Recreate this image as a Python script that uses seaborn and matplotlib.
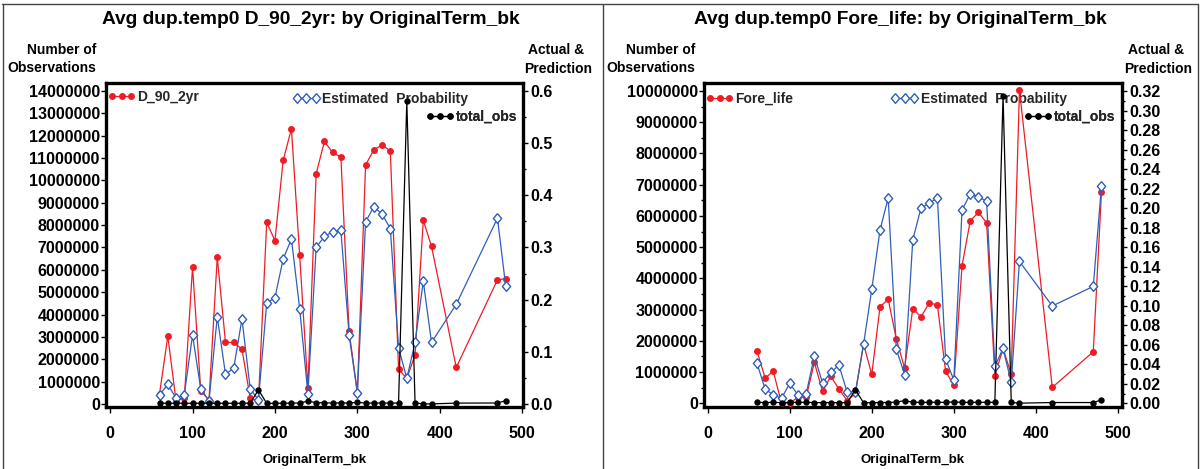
import matplotlib
matplotlib.use("Agg")
import matplotlib.pyplot as plt
import seaborn as sns
from matplotlib.lines import Line2D
from matplotlib.ticker import MultipleLocator, FuncFormatter

# ---------------- data ----------------
term_left = [60, 70, 80, 90, 100, 110, 120, 130, 140, 150, 160, 170, 180, 190, 200,
             210, 220, 230, 240, 250, 260, 270, 280, 290, 300, 310, 320, 330, 340,
             350, 360, 370, 380, 390, 420, 470, 480]
d90_actual = [0.020, 0.130, 0.006, 0.011, 0.262, 0.025, 0.008, 0.281, 0.118, 0.118,
              0.105, 0.011, 0.006, 0.348, 0.313, 0.467, 0.527, 0.285, 0.031, 0.441,
              0.503, 0.482, 0.473, 0.139, 0.022, 0.458, 0.487, 0.496, 0.485, 0.067,
              0.049, 0.094, 0.352, 0.302, 0.070, 0.238, 0.240]
d90_est = [0.017, 0.038, 0.011, 0.018, 0.132, 0.029, 0.006, 0.167, 0.057, 0.069,
           0.163, 0.029, 0.008, 0.193, 0.204, 0.278, 0.316, 0.183, 0.019, 0.300,
           0.321, 0.330, 0.333, 0.132, 0.022, 0.349, 0.378, 0.364, 0.336, 0.108,
           0.049, 0.118, 0.235, 0.118, 0.191, 0.356, 0.226]
d90_obs = [45000, 30000, 40000, 35000, 30000, 40000, 35000, 30000, 35000, 30000,
           35000, 40000, 630000, 30000, 30000, 35000, 40000, 45000, 130000, 60000,
           50000, 45000, 50000, 45000, 70000, 45000, 40000, 45000, 40000, 45000,
           13550000, 50000, 5000, 5000, 40000, 45000, 150000]

term_right = [60, 70, 80, 90, 100, 110, 120, 130, 140, 150, 160, 170, 180, 190, 200,
              210, 220, 230, 240, 250, 260, 270, 280, 290, 300, 310, 320, 330, 340,
              350, 360, 370, 380, 420, 470, 480]
fore_actual = [0.0538, 0.0259, 0.0327, 0.0000, 0.0003, 0.0061, 0.0061, 0.0419, 0.0123,
               0.0276, 0.0146, 0.0027, 0.0102, 0.0606, 0.0296, 0.0987, 0.1066, 0.0657,
               0.0361, 0.0970, 0.0885, 0.1028, 0.1008, 0.0327, 0.0187, 0.1406, 0.1869,
               0.1957, 0.1849, 0.0283, 0.0562, 0.0296, 0.3210, 0.0163, 0.0528, 0.2169]
fore_est = [0.0412, 0.0146, 0.0085, 0.0051, 0.0204, 0.0085, 0.0095, 0.0483, 0.0208,
            0.0317, 0.0391, 0.0112, 0.0112, 0.0606, 0.1168, 0.1774, 0.2104, 0.0555,
            0.0293, 0.1675, 0.2002, 0.2049, 0.2107, 0.0453, 0.0238, 0.1978, 0.2145,
            0.2114, 0.2070, 0.0378, 0.0562, 0.0214, 0.1454, 0.0997, 0.1198, 0.2230]
fore_obs = [30000, 25000, 30000, 20000, 30000, 35000, 30000, 25000, 20000, 25000,
            20000, 25000, 430000, 20000, 20000, 25000, 25000, 40000, 85000, 35000,
            30000, 30000, 35000, 30000, 45000, 30000, 30000, 35000, 30000, 30000,
            9850000, 30000, 5000, 25000, 25000, 110000]

x_ticks = [0, 100, 200, 300, 400, 500]

# ---------------- style ----------------
sns.set_theme(style="ticks")
plt.rcParams["font.family"] = ["Liberation Sans", "DejaVu Sans"]
plt.rcParams["font.weight"] = "bold"

RED = "#ee1c25"
BLUE = "#2f5fb8"
BLACK = "#000000"
DIAMOND = [(0, 1), (0.85, 0), (0, -1), (-0.85, 0), (0, 1)]

W, H = 1201, 469
fig = plt.figure(figsize=(W / 100, H / 100), dpi=100)
fig.patch.set_facecolor("white")

RED_KW = dict(color=RED, marker="o", markersize=5, markeredgewidth=0, linewidth=0.9)
BLUE_KW = dict(color=BLUE, marker=DIAMOND, markersize=7, markerfacecolor="white",
               markeredgecolor=BLUE, markeredgewidth=1.0, linewidth=0.9)
BLACK_KW = dict(color=BLACK, marker="o", markersize=4.6, markeredgewidth=0, linewidth=0.9)


def px_axes(l, t, r, b):
    return fig.add_axes([l / W, 1 - b / H, (r - l) / W, (b - t) / H])


def panel(rect, xs, actual, est, obs, name, title, xlim, ylim_p, ylim_c,
          p_major, p_minor, p_fmt, c_major, c_minor, title_x, lbl_x, leg_anchor):
    ax = px_axes(*rect)
    ax2 = ax.twinx()
    # probability axis on the right, counts on the left
    ax.yaxis.set_ticks_position("right")
    ax.yaxis.set_label_position("right")
    ax2.yaxis.set_ticks_position("left")
    ax2.yaxis.set_label_position("left")

    sns.lineplot(x=xs, y=actual, ax=ax, estimator=None, sort=False, zorder=3, **RED_KW)
    sns.lineplot(x=xs, y=est, ax=ax, estimator=None, sort=False, zorder=3, **BLUE_KW)
    sns.lineplot(x=xs, y=obs, ax=ax2, estimator=None, sort=False, **BLACK_KW)

    ax.set_xlim(*xlim)
    ax.set_ylim(*ylim_p)
    ax2.set_ylim(*ylim_c)
    ax.set_xticks(x_ticks)
    ax.yaxis.set_major_locator(MultipleLocator(p_major))
    ax.yaxis.set_minor_locator(MultipleLocator(p_minor))
    ax.yaxis.set_major_formatter(FuncFormatter(lambda v, p: p_fmt.format(abs(v) if abs(v) < 1e-9 else v)))
    ax2.yaxis.set_major_locator(MultipleLocator(c_major))
    if c_minor:
        ax2.yaxis.set_minor_locator(MultipleLocator(c_minor))
    ax2.yaxis.set_major_formatter(FuncFormatter(lambda v, p: f"{int(round(v))}"))

    for a in (ax, ax2):
        a.set_xlabel("")
        a.set_ylabel("")
        a.grid(False)
    for s in ax.spines.values():
        s.set_visible(True)
        s.set_linewidth(2.4)
        s.set_color("black")
    for s in ax2.spines.values():
        s.set_visible(False)

    ax.tick_params(axis="x", which="major", direction="out", length=4, width=1,
                   pad=10, labelsize=11.5, colors="black")
    ax.tick_params(axis="y", which="major", direction="out", length=3.5, width=1,
                   pad=2, labelsize=11.5, colors="black")
    ax.tick_params(axis="y", which="minor", direction="out", length=2.5, width=1,
                   colors="black")
    ax2.tick_params(axis="y", which="major", direction="out", length=3.5, width=1,
                    pad=1, labelsize=11.5, colors="black")
    ax2.tick_params(axis="y", which="minor", direction="out", length=2.5, width=1,
                    colors="black")
    for lab in ax.get_xticklabels() + ax.get_yticklabels() + ax2.get_yticklabels():
        lab.set_fontweight("bold")

    ax.set_xlabel("OriginalTerm_bk", fontsize=9.5, fontweight="bold", labelpad=9,
                  color="black")

    # legends (drawn under the data lines)
    specs = [
        (Line2D([], [], **RED_KW), name, leg_anchor[0]),
        (Line2D([], [], **BLUE_KW), "Estimated  Probability", leg_anchor[1]),
        (Line2D([], [], **BLACK_KW), "total_obs", leg_anchor[2]),
    ]
    for h, lbl, anc in specs:
        leg = ax.legend(handles=[h], labels=[lbl], loc="center left",
                        bbox_to_anchor=anc, frameon=False, numpoints=3,
                        handlelength=2.0, handletextpad=0.15, borderpad=0,
                        borderaxespad=0,
                        prop={"size": 10, "weight": "bold",
                              "family": ["Liberation Sans", "DejaVu Sans"]})
        leg.set_zorder(1)
        ax.add_artist(leg)

    fig.text(title_x / W, 1 - 20 / H, title, ha="center", va="center",
             fontsize=13.8, fontweight="bold", color="black")
    fig.text(lbl_x[0] / W, 1 - 59 / H, "Number of\nObservations", ha="right",
             va="center", ma="right", fontsize=10, fontweight="bold",
             linespacing=1.35, color="black")
    fig.text(lbl_x[1] / W, 1 - 50 / H, "Actual &", ha="left",
             va="center", fontsize=10, fontweight="bold", color="black")
    fig.text((lbl_x[1] - 4) / W, 1 - 69 / H, "Prediction", ha="left",
             va="center", fontsize=10, fontweight="bold", color="black")
    return ax


panel((106, 83, 523, 407), term_left, d90_actual, d90_est, d90_obs, "D_90_2yr",
      "Avg dup.temp0 D_90_2yr: by OriginalTerm_bk", (-5, 501), (-0.0057, 0.615),
      (-0.134e6, 14.35e6), 0.1, 0.05, "{:.1f}", 1e6, None, 311, (96, 528),
      [(0.004, 0.957), (0.447, 0.951), (0.768, 0.895)])

panel((704, 83, 1122, 407), term_right, fore_actual, fore_est, fore_obs, "Fore_life",
      "Avg dup.temp0 Fore_life: by OriginalTerm_bk", (-4.5, 505), (-0.0038, 0.3282),
      (-0.118e6, 1.0256e7), 0.02, 0.01, "{:.2f}", 1e6, 5e5, 900, (695, 1128),
      [(0.004, 0.951), (0.447, 0.951), (0.766, 0.895)])

# panel borders
for (x0, y0, x1, y1) in [(2, 4, 1198, 4), (2.5, 4, 2.5, 469), (603, 4, 603, 469),
                         (1198, 4, 1198, 469)]:
    fig.add_artist(Line2D([x0 / W, x1 / W], [1 - y0 / H, 1 - y1 / H],
                          color="#444444", linewidth=1.0))

fig.savefig("out.png", dpi=100, facecolor="white")
